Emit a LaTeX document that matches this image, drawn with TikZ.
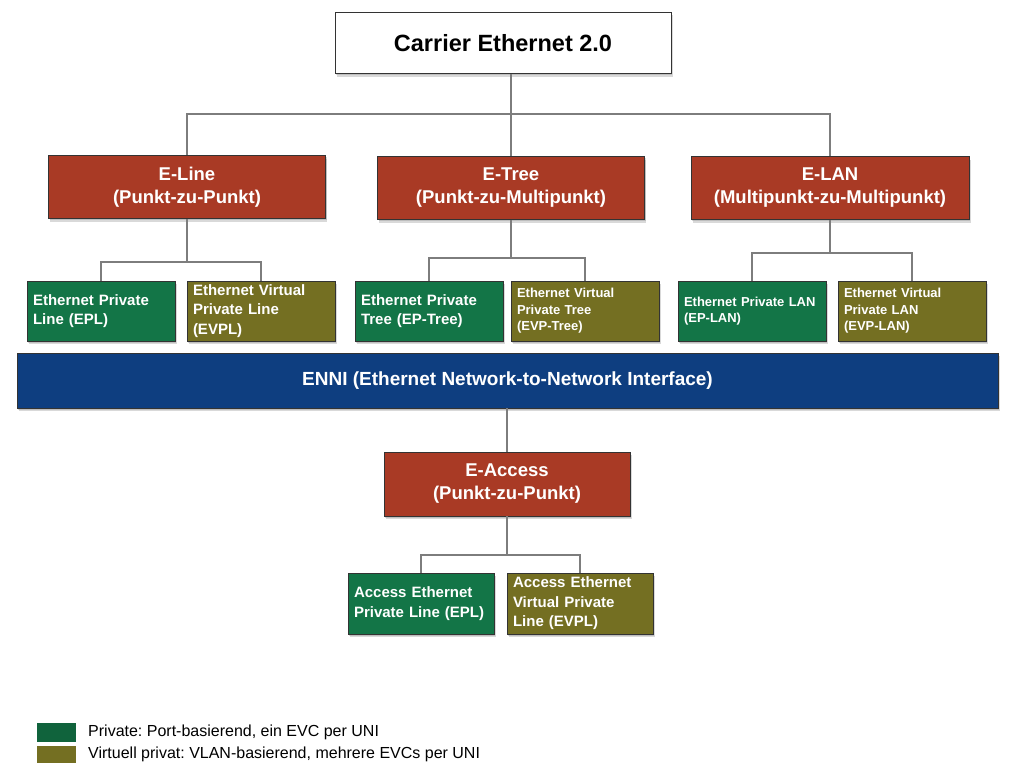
\documentclass[tikz,border=0pt]{standalone}
\usepackage{fontspec}
\setmainfont{Liberation Sans}
\frenchspacing
\usetikzlibrary{shadows}
\definecolor{boxred}{RGB}{169,58,37}
\definecolor{boxgreen}{RGB}{19,117,71}
\definecolor{boxolive}{RGB}{116,111,34}
\definecolor{boxblue}{RGB}{14,62,128}
\definecolor{linegray}{RGB}{125,125,125}
\tikzset{
  box/.style={draw=black!80, line width=0.8pt, inner sep=0pt, text=white,
    drop shadow={shadow xshift=1.5pt, shadow yshift=-3pt, opacity=0.3},
    drop shadow={shadow xshift=1pt, shadow yshift=-1.5pt, opacity=0.3}},
  head/.style={box, fill=white, text=black, minimum width=336pt, minimum height=61pt,
    font=\bfseries\fontsize{23.5}{27}\selectfont},
  service/.style={box, fill=boxred, minimum height=63pt, align=center,
    font=\bfseries\fontsize{18.5}{23}\selectfont},
  leaf/.style={box, text width=136pt, minimum height=60pt, inner xsep=6pt, align=left,
    font=\bfseries\fontsize{15}{19.5}\selectfont},
  priv/.style={leaf, fill=boxgreen},
  virt/.style={leaf, fill=boxolive},
  small/.style={font=\bfseries\fontsize{13}{16.5}\selectfont},
  link/.style={draw=linegray, line width=1.6pt},
  legend/.style={anchor=west, inner sep=0pt, font=\fontsize{16}{19}\selectfont}
}
\begin{document}
\begin{tikzpicture}[x=1pt, y=-1pt]
  \useasboundingbox (0,0) rectangle (1014,768);
  \node[head] (ce) at (503,43) {Carrier Ethernet 2.0};
  \node[service, minimum width=277pt] (eline) at (187,187) {E-Line\\(Punkt-zu-Punkt)};
  \node[service, minimum width=267pt] (etree) at (511,188) {E-Tree\\(Punkt-zu-Multipunkt)};
  \node[service, minimum width=278pt] (elan) at (830,188) {E-LAN\\(Multipunkt-zu-Multipunkt)};
  \node[priv] (epl) at (101,311) {Ethernet Private\\Line (EPL)};
  \node[virt] (evpl) at (261,311) {Ethernet Virtual\\Private Line\\(EVPL)};
  \node[priv] (eptree) at (429,311) {Ethernet Private\\Tree (EP-Tree)};
  \node[virt, small] (evptree) at (585,311) {Ethernet Virtual\\Private Tree\\(EVP-Tree)};
  \node[priv, small] (eplan) at (752,311) {Ethernet Private LAN\\(EP-LAN)};
  \node[virt, small] (evplan) at (912,311) {Ethernet Virtual\\Private LAN\\(EVP-LAN)};
  \node[box, fill=boxblue, minimum width=981pt, minimum height=55pt,
    font=\bfseries\fontsize{19}{22}\selectfont] (enni) at (507.5,380.5)
    {ENNI (Ethernet Network-to-Network Interface)};
  \node[service, minimum width=246pt, minimum height=64pt] (eaccess) at (507,484) {E-Access\\(Punkt-zu-Punkt)};
  \node[priv, text width=134pt, minimum height=61pt] (aepl) at (421,603.5) {Access Ethernet\\Private Line (EPL)};
  \node[virt, text width=134pt, minimum height=61pt] (aevpl) at (580,603.5) {Access Ethernet\\Virtual Private\\Line (EVPL)};
  \coordinate (bus) at (511,114);
  \draw[link] (etree.north) -- (etree.north |- ce.south);
  \draw[link] (eline.north) |- (bus) -| (elan.north);
  \foreach \p/\a/\b/\y in {eline/epl/evpl/262, etree/eptree/evptree/258, elan/eplan/evplan/253, eaccess/aepl/aevpl/555} {
    \coordinate (j) at (\p.south |- 0,\y);
    \draw[link] (\p.south) -- (j);
    \draw[link] (\a.north) |- (j) -| (\b.north);
  }
  \draw[link] (eaccess.north) -- (eaccess.north |- enni.south);
  \fill[boxgreen!85!black] (37,723) rectangle (76,742);
  \fill[boxolive] (37,746) rectangle (76,763);
  \node[legend] (lpriv) at (88,732) {Private: Port-basierend, ein EVC per UNI};
  \node[legend] (lvirt) at (88,754) {Virtuell privat: VLAN-basierend, mehrere EVCs per UNI};
\end{tikzpicture}
\end{document}
